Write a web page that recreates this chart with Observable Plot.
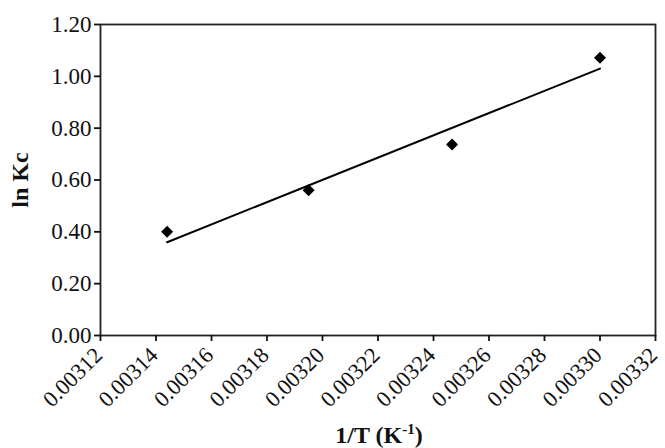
<!DOCTYPE html>
<html><head><meta charset="utf-8">
<script src="https://cdn.jsdelivr.net/npm/d3@7"></script>
<script src="https://cdn.jsdelivr.net/npm/@observablehq/plot@0.6"></script>
<style>body{margin:0;background:#fff} svg text{font-family:'Liberation Serif', serif !important;}</style>
</head><body><div id="chart"></div>
<script>
const invT = [0.003144, 0.003195, 0.0032467, 0.0033];
const lnKc = [0.40, 0.56, 0.737, 1.072];
const trendX = [0.003144, 0.0033];
const trendY = [0.36, 1.03];
const xTicks = [0.00312,0.00314,0.00316,0.00318,0.00320,0.00322,0.00324,0.00326,0.00328,0.00330,0.00332];
const yTicks = [0,0.2,0.4,0.6,0.8,1.0,1.2];
const points = invT.map((x,i)=>({x, y:lnKc[i]}));
const trend = trendX.map((x,i)=>({x, y:trendY[i]}));

const chart = Plot.plot({
  width: 665, height: 448,
  marginLeft: 100, marginTop: 24, marginRight: 10, marginBottom: 113,
  style: {fontFamily: "'Liberation Serif', serif", fontSize: "23px", color: "#111", background: "#fff"},
  x: {domain: [0.00312, 0.00332], label: null},
  y: {domain: [0, 1.2], label: null},
  marks: [
    Plot.frame({stroke: "#222", strokeWidth: 1.8}),
    Plot.axisX({ticks: xTicks, tickFormat: () => "", tickSize: 6, strokeWidth: 1.8, label: null}),
    Plot.axisX({ticks: xTicks, tickFormat: d3.format(".5f"), tickRotate: -45, tickSize: 0, tickPadding: 16, dx: -2, fontSize: 22.5, label: null}),
    Plot.axisY({ticks: yTicks, tickFormat: d3.format(".2f"), tickSize: 6, tickPadding: 3, strokeWidth: 1.8, fontSize: 23, label: null}),
    Plot.line(trend, {x: "x", y: "y", stroke: "#000", strokeWidth: 2}),
    Plot.dot(points, {x: "x", y: "y", symbol: "diamond2", r: 5.4, fill: "#000", stroke: "none"})
  ]
});
document.getElementById("chart").appendChild(chart);
const svg = d3.select(chart);
svg.append("text").attr("transform", "translate(28,180) rotate(-90)")
  .attr("text-anchor", "middle").attr("font-weight", "bold").attr("font-size", 24)
  .attr("font-family", "'Liberation Serif', serif").text("ln Kc");
const t = svg.append("text").attr("x", 379).attr("y", 443).attr("text-anchor", "middle")
  .attr("font-weight", "bold").attr("font-size", 24).attr("font-family", "'Liberation Serif', serif");
t.append("tspan").text("1/T (K");
t.append("tspan").attr("font-size", 15).attr("dy", -9).text("-1");
t.append("tspan").attr("dy", 9).text(")");
</script></body></html>
